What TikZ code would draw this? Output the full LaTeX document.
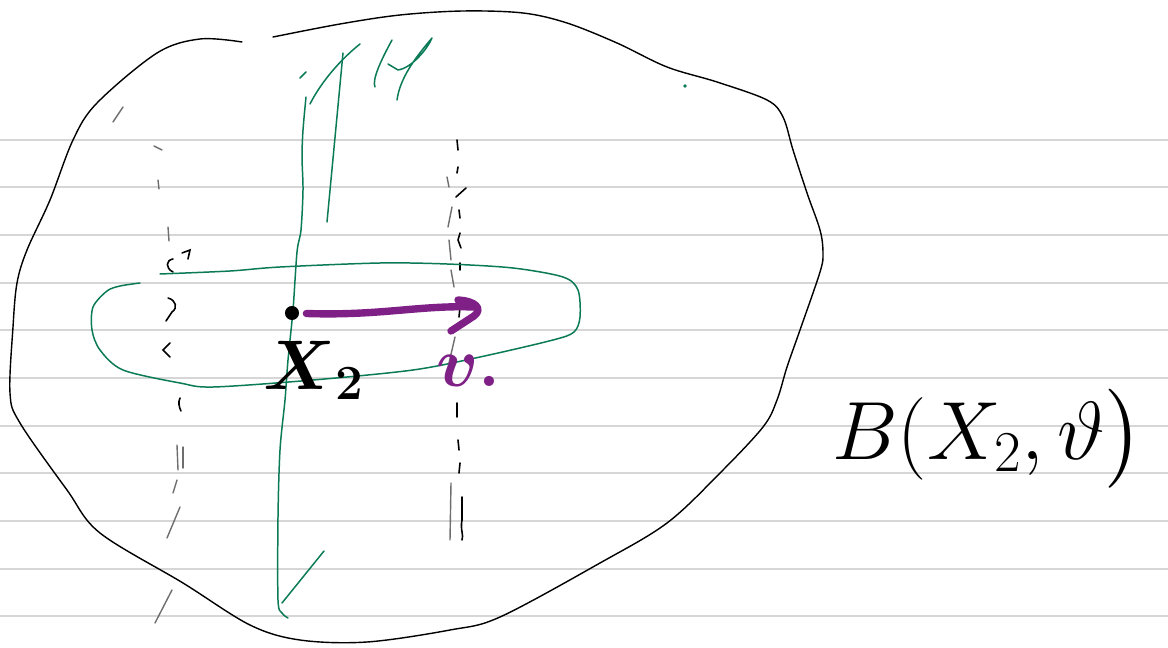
\RequirePackage{fix-cm}
\documentclass[tikz,border=0pt]{standalone}
\usepackage{amsmath}
\usepackage{amssymb}
\usepackage{xcolor}
\usepackage{tikz}
\usetikzlibrary{arrows.meta,positioning,calc}
\definecolor{sketchgreen}{HTML}{0A7A57}
\definecolor{sketchpurple}{HTML}{7E2086}
\definecolor{rulegray}{HTML}{D6D6D6}
\definecolor{dashgray}{HTML}{6E6E6E}
\newcommand{\handfont}{\fontsize{40}{44}\selectfont}
\newcommand{\ballfont}{\fontsize{47}{52}\selectfont}
\tikzset{
  ruleline/.style={draw=rulegray,line width=1.1pt},
  blobline/.style={draw=black,line width=0.8pt,line cap=round,line join=round},
  leafline/.style={draw=sketchgreen,line width=0.85pt,line cap=round,line join=round},
  fibgray/.style={draw=dashgray,line width=0.8pt,line cap=round},
  fibblack/.style={draw=black,line width=0.9pt,line cap=round},
  vecline/.style={draw=sketchpurple,line width=4.2pt,line cap=round,line join=round},
  ptdot/.style={circle,fill=black,inner sep=0pt,minimum size=8pt},
  handlabel/.style={inner sep=0pt,anchor=base west}
}

\begin{document}
\begin{tikzpicture}[x=0.02cm,y=-0.02cm]
\useasboundingbox (0,0) rectangle (1168,648);
% ruled paper
\foreach \k in {0,...,10}{\draw[ruleline] (0,{139.7+47.66*\k}) -- (1168,{139.7+47.66*\k});}
% outer blob
\draw[blobline] plot[smooth,tension=0.55] coordinates {(273,37) (340,24) (400,15) (463,11) (523,13) (567,23) (617,43) (667,67) (717,82) (767,100) (783,117) (793,150) (807,193) (820,230) (823,253) (820,272) (800,330) (787,367) (777,400) (763,427) (720,473) (667,523) (600,563) (500,617) (450,630) (367,642) (300,640) (250,625) (183,583) (100,533) (67,490) (20,423) (10,393) (13,327) (17,283) (27,250) (50,200) (73,140) (97,103) (157,53) (200,39) (242,42)};
% dashed fibres
\foreach \xa/\ya/\xb/\yb in {113/122/123/107,154/146/162/150,158/180/159/189,168/227/169/241,177/445/178/470,183/447/183/468,177/480/173/493,180/507/167/538,172/590/155/623,447/177/449/187,452/207/448/227,449/240/451/260,451/270/454/287,455/337/449/363,451/483/450/540}
  {\draw[fibgray] (\xa,\ya) -- (\xb,\yb);}
\foreach \xa/\ya/\xb/\yb in {457/140/458/150,458/167/457/173,456/197/466/188,459/210/460/218,460/263/460/270,460/307/459/317,457/403/457/417,458/440/459/450,460/463/459/473,462/497/462/520}
  {\draw[fibblack] (\xa,\ya) -- (\xb,\yb);}
\draw[fibblack] (460,233) -- (458,240) -- (461,248);
\draw[fibblack] (462,520) .. controls (460,530) and (464,535) .. (462,540);
\draw[fibblack] (173,259) .. controls (166,260) and (165,268) .. (173,272);
\draw[fibblack] (182,253) -- (190,250) -- (188,259);
\draw[fibblack] (168,298) .. controls (176,300) and (178,308) .. (172,312) -- (166,321);
\draw[fibblack] (170,343) -- (163,350) -- (170,357);
\draw[fibblack] (180,398) .. controls (178,402) and (179,407) .. (181,411);
% leaf through x_2
\draw[leafline] plot[smooth,tension=0.5] coordinates {(160,274) (230,271) (280,267) (380,263) (447,264) (513,268) (563,277) (578,290) (580,317) (574,332) (553,340) (480,357) (413,370) (313,380) (213,387) (180,383) (123,370) (100,350) (92,330) (93,307) (107,291) (120,286) (140,283)};
% fibre through x_2 and TM strokes
\draw[leafline] (300,78) -- (306,72);
\draw[leafline] plot[smooth,tension=0.5] coordinates {(306,97) (303,130) (302,157) (303,190) (301,230) (297,252) (293,310) (288,360) (285,400) (280,450) (278,517) (278,600) (282,613) (288,618)};
\draw[leafline] (324,551) -- (282,603);
\draw[leafline] (310,104) .. controls (318,88) and (335,64) .. (360,44);
\draw[leafline] (327,222) -- (343,53);
\draw[leafline] (375,87) .. controls (372,80) and (380,62) .. (392,40);
\draw[leafline] (397,100) .. controls (400,78) and (415,58) .. (432,38) .. controls (428,48) and (412,68) .. (398,70) -- (388,64);
\fill[sketchgreen] (685,86) circle (1.1pt);
% base point and vector
\node[ptdot] (x2pt) at (292,313) {};
\coordinate (vtip) at (474,307);
\draw[vecline,shorten <=4pt] (x2pt) .. controls (380,316) and (420,305) .. (vtip);
\draw[vecline] (458,300) .. controls (476,301) and (483,309) .. (474,316) -- (451,331);
% labels
\node[handlabel,font=\handfont] (x2lab) at (263,389) {$\boldsymbol{X}_{\mathbf{2}}$};
\node[handlabel,font=\handfont,text=sketchpurple] (vlab) at (436,386) {$\boldsymbol{v}$\textbf{.}};
\node[handlabel,font=\ballfont] (ball) at (832,459) {$B(X_2,\vartheta\bigr)$};
\end{tikzpicture}
\end{document}
